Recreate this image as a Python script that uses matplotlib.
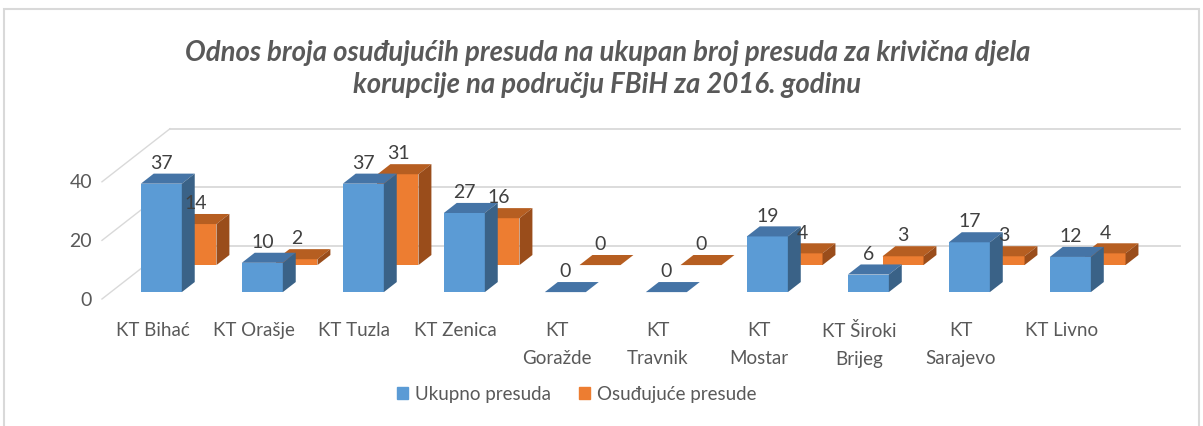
import matplotlib
matplotlib.use('Agg')
from matplotlib import pyplot as plt
from matplotlib.patches import Polygon, Patch, Rectangle

plt.rcParams['font.family'] = ['Lato', 'DejaVu Sans']

categories = ['KT Bihać', 'KT Orašje', 'KT Tuzla', 'KT Zenica', 'KT\nGoražde',
              'KT\nTravnik', 'KT\nMostar', 'KT Široki\nBrijeg', 'KT\nSarajevo', 'KT Livno']
ukupno = [37, 10, 37, 27, 0, 0, 19, 6, 17, 12]
osudjujuce = [14, 2, 31, 16, 0, 0, 4, 3, 3, 4]
yticks = [0, 20, 40]
series_names = ['Ukupno presuda', 'Osuđujuće presude']
title = ('Odnos broja osuđujućih presuda na ukupan broj presuda za krivična djela\n'
         'korupcije na području FBiH za 2016. godinu')

# colours: front, top, side
blue = ('#5B9BD5', '#4574A6', '#3A6287')
orange = ('#ED7D31', '#B65E21', '#9A4D1B')

# oblique projection: one unit of depth moves this much in x (categories) and y (values)
DX = 0.673
DY = 18.09
HALF_W = 0.203


def proj(x, v, d):
    return (x + DX * d, v + DY * d)


fig = plt.figure(figsize=(12.03, 4.27), dpi=100)
fig.patches.append(Rectangle((4 / 1203, -0.1), 1195 / 1203, 1.1 - 10 / 427,
                             transform=fig.transFigure, fill=False,
                             edgecolor='#D9D9D9', lw=1.5))
ax = fig.add_axes([95 / 1203, 1 - 305 / 427, 1095 / 1203, 185 / 427])
ax.set_xlim(-0.569, 10.272)
ax.set_ylim(-1.706, 61.43)
ax.axis('off')

n = len(categories)
left, right = -0.5, n - 0.5

# walls: back wall gridlines + left wall diagonals
for t in yticks:
    x0, y0 = proj(left, t, 1)
    x1, y1 = proj(right, t, 1)
    ax.plot([x0, x1], [y0, y1], color='#D9D9D9', lw=1.3, zorder=1)
    xa, ya = proj(left, t, 0)
    ax.plot([xa, x0], [ya, y0], color='#D9D9D9', lw=1.0, zorder=1)
    ax.annotate(str(t), xy=(xa, ya), xytext=(-7, 0), textcoords='offset points',
                ha='right', va='center', fontsize=14, color='#595959')


def draw_bars(values, cols, d_front, d_back, z):
    xs = [i + DX * d_front for i in range(n)]
    base = DY * d_front
    ax.bar(xs, values, width=2 * HALF_W, bottom=base, color=cols[0], zorder=z)
    for i, v in enumerate(values):
        top = [proj(i - HALF_W, v, d_front), proj(i + HALF_W, v, d_front),
               proj(i + HALF_W, v, d_back), proj(i - HALF_W, v, d_back)]
        ax.add_patch(Polygon(top, closed=True, facecolor=cols[1], edgecolor='none', zorder=z))
        if v > 0:
            side = [proj(i + HALF_W, 0, d_front), proj(i + HALF_W, v, d_front),
                    proj(i + HALF_W, v, d_back), proj(i + HALF_W, 0, d_back)]
            ax.add_patch(Polygon(side, closed=True, facecolor=cols[2], edgecolor='none', zorder=z))
        lx, _ = proj(i, v, d_front)
        _, ly = proj(i, v, d_back)
        ax.annotate(str(v), xy=(lx, ly), xytext=(0, 2), textcoords='offset points',
                    ha='center', va='bottom', fontsize=14, color='#404040', zorder=10)


draw_bars(osudjujuce, orange, 0.64, 0.83, 2)
draw_bars(ukupno, blue, 0.13, 0.32, 3)

for i, c in enumerate(categories):
    ax.annotate(c, xy=(i, 0), xytext=(0, -16), textcoords='offset points',
                ha='center', va='top', fontsize=13.5, color='#595959', linespacing=1.75)

fig.text(0.505, 1 - 69 / 427, title, ha='center', va='center', fontsize=19.8,
         fontweight='bold', style='italic', color='#595959', linespacing=1.25)

handles = [Patch(color=blue[0]), Patch(color=orange[0])]
leg = fig.legend(handles, series_names, loc='center', bbox_to_anchor=(577 / 1203, 1 - 395 / 427),
                 ncol=2, frameon=False, fontsize=13.5, handlelength=0.55, handleheight=0.55,
                 handletextpad=0.4, columnspacing=1.5)
for txt in leg.get_texts():
    txt.set_color('#595959')

plt.savefig('out.png', dpi=100)
